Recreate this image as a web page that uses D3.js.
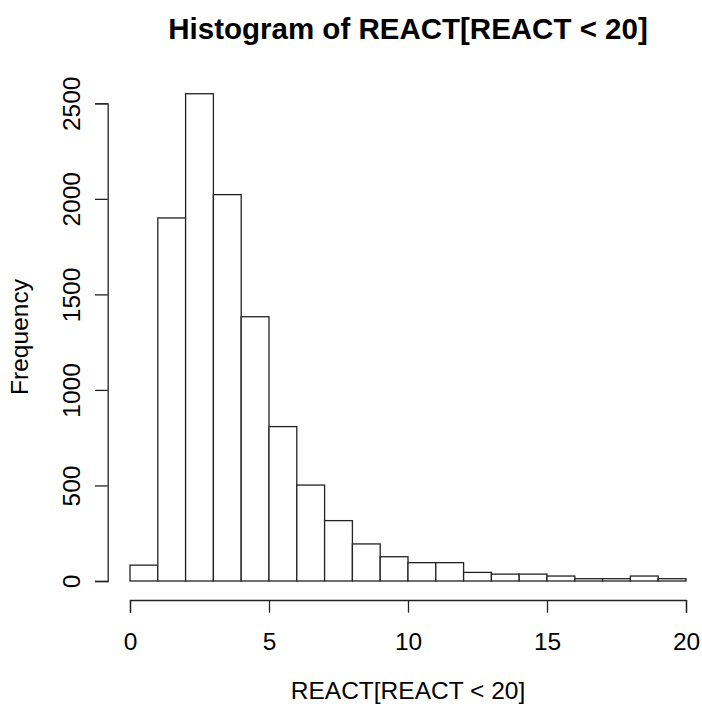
<!DOCTYPE html>
<html>
<head>
<meta charset="utf-8">
<script src="https://cdn.jsdelivr.net/npm/d3@7"></script>
<style>
    body { margin: 0; background: #fff; }
    text { font-family: "Liberation Sans", Arial, Helvetica, sans-serif; fill: #000; }
</style>
</head>
<body>
<div class="container"></div>
<script>
// histogram bins (break points) and counts
var breaks = [0, 1, 2, 3, 4, 5, 6, 7, 8, 9, 10, 11, 12, 13, 14, 15, 16, 17, 18, 19, 20];
var counts = [83, 1900, 2550, 2022, 1383, 808, 502, 316, 194, 127, 96, 96, 45, 36, 36, 26, 12, 12, 26, 12];
var xTicks = [0, 5, 10, 15, 20];
var yTicks = [0, 500, 1000, 1500, 2000, 2500];

var title = "Histogram of REACT[REACT < 20]";
var xLabel = "REACT[REACT < 20]";
var yLabel = "Frequency";

var width = 702;
var height = 704;
var lineColor = "#222";
var fontSize = '24.5px';

var svg = d3.select('.container')
    .append('svg')
    .attr('width', width)
    .attr('height', height)

var x = d3.scaleLinear().domain([0, 20]).range([130, 686]);
var y = d3.scaleLinear().domain([0, 2500]).range([581, 103.3]);

var bins = counts.map(function (c, i) {
    return { x0: breaks[i], x1: breaks[i + 1], count: c };
});

// bars
svg.append('g')
    .attr('class', 'bars')
    .selectAll('rect')
    .data(bins)
    .enter().append('rect')
    .attr('x', function (d) { return x(d.x0) })
    .attr('width', function (d) { return x(d.x1) - x(d.x0) })
    .attr('y', function (d) { return y(d.count) })
    .attr('height', function (d) { return y(0) - y(d.count) })
    .attr('fill', 'white')
    .attr('stroke', lineColor)
    .attr('stroke-width', 1.3)

// x axis, R style: line only between first and last tick
var xAxis = svg.append('g')
    .attr('transform', 'translate(0,600)')
    .call(d3.axisBottom(x).tickValues(xTicks).tickFormat(d3.format('d')).tickSizeOuter(0).tickSize(12.7))

xAxis.select('.domain').attr('stroke', lineColor).attr('stroke-width', 1.3)
xAxis.selectAll('.tick line').attr('stroke', lineColor).attr('stroke-width', 1.3)
xAxis.selectAll('.tick text')
    .attr('font-size', fontSize)
    .attr('font-family', '"Liberation Sans", Arial, sans-serif')
    .attr('fill', '#000')
    .attr('dy', null)
    .attr('y', 49.5)

// y axis, labels turned to read upwards
var yAxis = svg.append('g')
    .attr('transform', 'translate(107.7,0)')
    .call(d3.axisLeft(y).tickValues(yTicks).tickFormat(d3.format('d')).tickSizeOuter(0).tickSize(12.7))

yAxis.select('.domain').attr('stroke', lineColor).attr('stroke-width', 1.3)
yAxis.selectAll('.tick line').attr('stroke', lineColor).attr('stroke-width', 1.3)
yAxis.selectAll('.tick text')
    .attr('font-size', fontSize)
    .attr('font-family', '"Liberation Sans", Arial, sans-serif')
    .attr('fill', '#000')
    .attr('text-anchor', 'middle')
    .attr('dy', null)
    .attr('x', null)
    .attr('transform', 'translate(-27.7,0) rotate(-90)')

// titles
svg.append('text')
    .attr('x', x(10))
    .attr('y', 38.5)
    .attr('text-anchor', 'middle')
    .attr('font-size', '29.5px')
    .attr('font-weight', 'bold')
    .text(title)

svg.append('text')
    .attr('x', x(10))
    .attr('y', 698.5)
    .attr('text-anchor', 'middle')
    .attr('font-size', fontSize)
    .text(xLabel)

svg.append('text')
    .attr('transform', 'translate(28,337) rotate(-90)')
    .attr('text-anchor', 'middle')
    .attr('font-size', fontSize)
    .text(yLabel)
</script>
</body>
</html>
